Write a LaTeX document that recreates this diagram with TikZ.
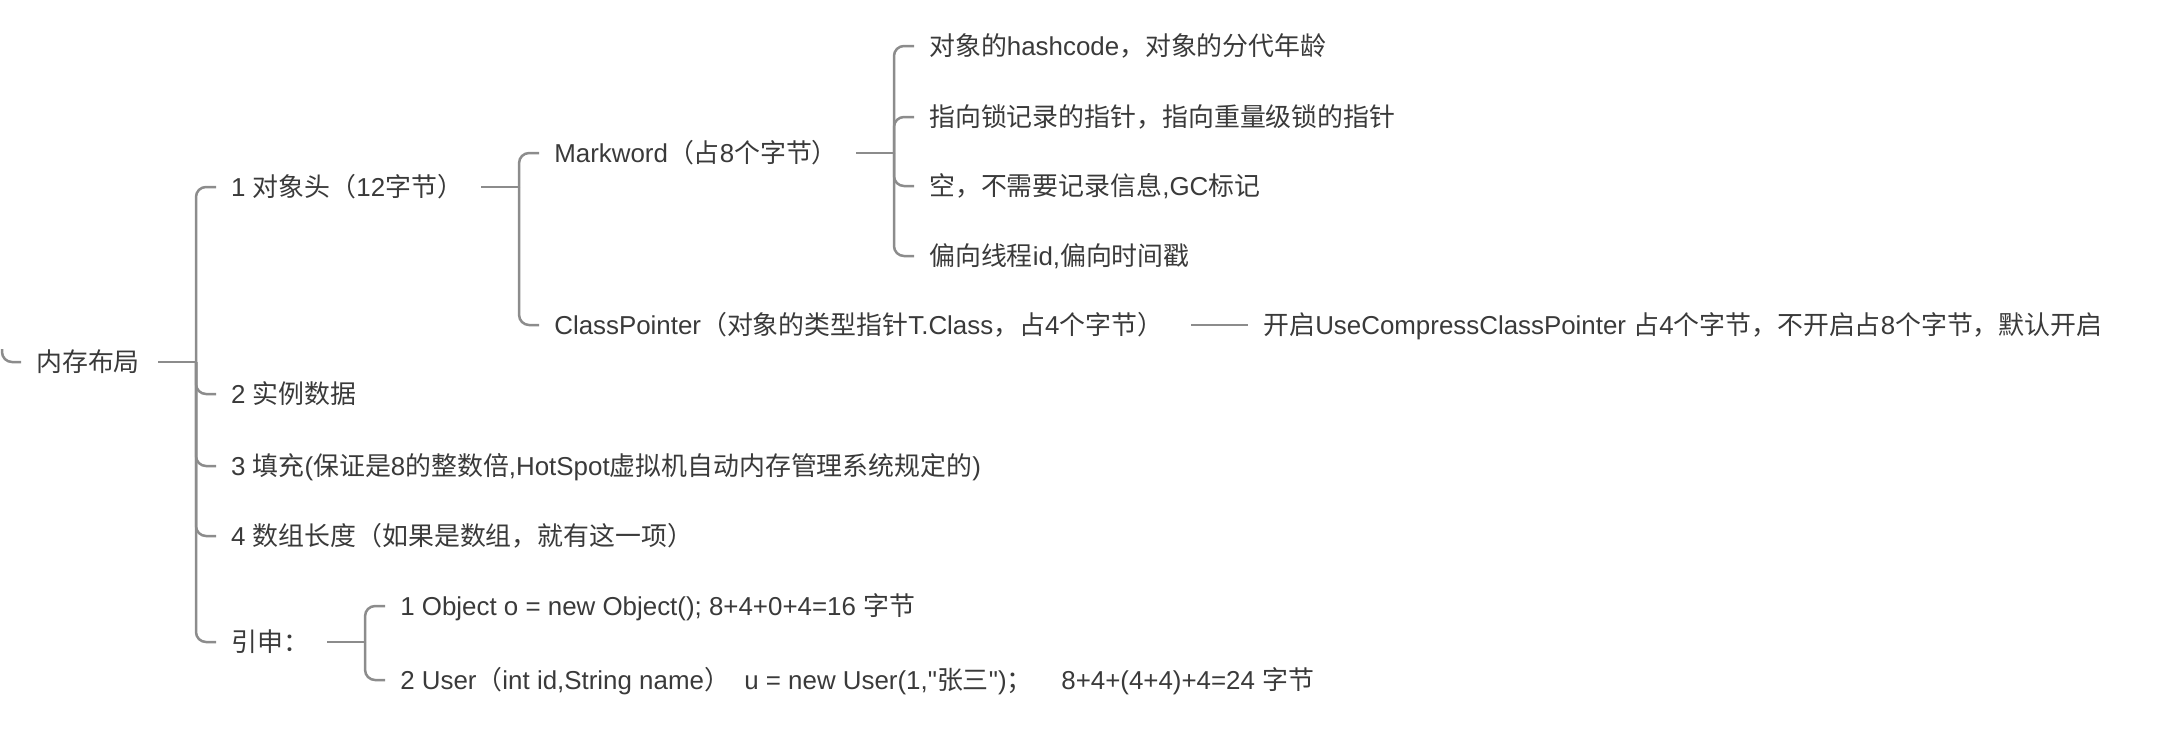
\documentclass[tikz,border=0pt]{standalone}
\usepackage{fontspec}
\setmainfont{Liberation Sans}[Ligatures=TeXOff]
\newfontfamily\cjk{Noto Sans CJK SC}
\usetikzlibrary{positioning}
\definecolor{ink}{RGB}{58,58,58}
\definecolor{wire}{RGB}{140,140,140}
\newcommand{\zh}[1]{{\cjk #1}}

\begin{document}
\begin{tikzpicture}[
  x = 1pt,
  y = -1pt,
  topic/.style = {
    anchor = west,
    text = ink,
    font = \fontsize{25.9pt}{30pt}\selectfont,
    inner xsep = 15pt,
    inner ysep = 0pt,
    text height = 22.8pt,
    text depth = 3.1pt,
  },
  branch/.style = {
    draw = wire,
    line width = 2.5pt,
    rounded corners = 10pt,
  },
  elbow/.style = {to path = {|- (\tikztotarget)}},
]

  \useasboundingbox (0,0) rectangle (2182,736);

  \node[topic] (root) at (21,362) {\zh{内存布局}};
  \coordinate (up) at (2,349);

  \node[topic] (head) [right=61pt of root.east, yshift=175pt] {1 \zh{对象头（}12\zh{字节）}};
  \node[topic] (inst) [right=61pt of root.east, yshift=-32pt] {2 \zh{实例数据}};
  \node[topic] (pad) [right=61pt of root.east, yshift=-104pt] {3 \zh{填充}(\zh{保证是}8\zh{的整数倍},HotSpot\zh{虚拟机自动内存管理系统规定的})};
  \node[topic] (arr) [right=61pt of root.east, yshift=-174pt] {4 \zh{数组长度（如果是数组，就有这一项）}};
  \node[topic] (ext) [right=61pt of root.east, yshift=-280pt] {\zh{引申：}};

  \node[topic] (mark) [right=61pt of head.east, yshift=34pt] {Markword\zh{（占}8\zh{个字节）}};
  \node[topic] (cls) [right=61pt of head.east, yshift=-138pt] {ClassPointer\zh{（对象的类型指针}T.Class\zh{，占}4\zh{个字节）}};

  \node[topic] (m1) [right=61pt of mark.east, yshift=107pt] {\zh{对象的}hashcode\zh{，对象的分代年龄}};
  \node[topic] (m2) [right=61pt of mark.east, yshift=36pt] {\zh{指向锁记录的指针，指向重量级锁的指针}};
  \node[topic] (m3) [right=61pt of mark.east, yshift=-33pt] {\zh{空，不需要记录信息},GC\zh{标记}};
  \node[topic] (m4) [right=61pt of mark.east, yshift=-103pt] {\zh{偏向线程}id,\zh{偏向时间戳}};

  \node[topic] (cpn) [right=70pt of cls.east] {\zh{开启}UseCompressClassPointer \zh{占}4\zh{个字节，不开启占}8\zh{个字节，默认开启}};

  \node[topic] (e1) [right=61pt of ext.east, yshift=36pt] {1 Object o = new Object(); 8+4+0+4=16 \zh{字节}};
  \node[topic] (e2) [right=61pt of ext.east, yshift=-38pt] {2 User\zh{（}int id,String name\zh{）}\ \ u = new User(1,"\zh{张三}")\zh{；}\ \ \ \ 8+4+(4+4)+4=24 \zh{字节}};

  % junctions of the brackets
  \coordinate (rootj) at ([xshift=41pt]root.east);
  \coordinate (headj) at ([xshift=41pt]head.east);
  \coordinate (markj) at ([xshift=41pt]mark.east);
  \coordinate (extj) at ([xshift=41pt]ext.east);

  \path[branch] (up) edge[elbow] (root.west);

  \path[branch] ([xshift=3pt]root.east) edge (rootj);
  \path[branch] (rootj) edge[elbow] (head.west);
  \path[branch] (rootj) edge[elbow] (inst.west);
  \path[branch] (rootj) edge[elbow] (pad.west);
  \path[branch] (rootj) edge[elbow] (arr.west);
  \path[branch] (rootj) edge[elbow] (ext.west);

  \path[branch] ([xshift=3pt]head.east) edge (headj);
  \path[branch] (headj) edge[elbow] (mark.west);
  \path[branch] (headj) edge[elbow] (cls.west);

  \path[branch] ([xshift=3pt]mark.east) edge (markj);
  \path[branch] (markj) edge[elbow] (m1.west);
  \path[branch] (markj) edge[elbow] (m2.west);
  \path[branch] (markj) edge[elbow] (m3.west);
  \path[branch] (markj) edge[elbow] (m4.west);

  \path[branch] ([xshift=13pt]cls.east) edge (cpn.west);

  \path[branch] ([xshift=3pt]ext.east) edge (extj);
  \path[branch] (extj) edge[elbow] (e1.west);
  \path[branch] (extj) edge[elbow] (e2.west);

\end{tikzpicture}
\end{document}
